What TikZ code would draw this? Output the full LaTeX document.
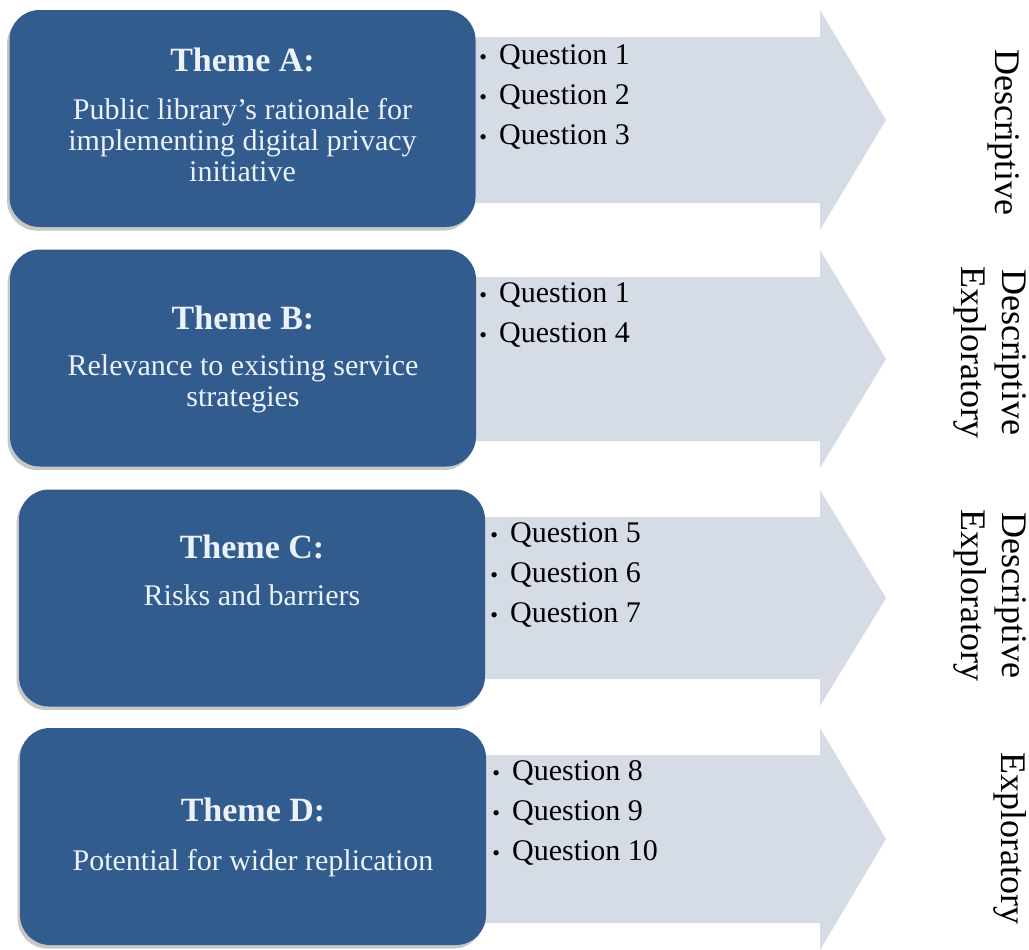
\documentclass[tikz,border=0pt]{standalone}
\usepackage{fontspec}
\setmainfont{Liberation Serif}
\usepackage{tikz}
\usetikzlibrary{
  shadows,               % Soft shadow under the theme boxes
  positioning            % Relative placement
}

\definecolor{themeblue}{RGB}{50,92,142}
\definecolor{themetxt}{RGB}{236,242,250}
\definecolor{arrowgray}{RGB}{213,220,230}

\newcommand{\qitem}[1]{{\fontsize{11}{11}\selectfont\textbullet}\hspace{6pt}Question #1}

\begin{document}
\begin{tikzpicture}[x=0.5pt, y=-0.5pt,
    theme/.style={rounded corners=15pt, fill=themeblue, minimum width=233pt, minimum height=108.5pt,
      drop shadow={shadow xshift=-1.2pt, shadow yshift=-1.8pt, fill=black, opacity=0.22}},
    themetitle/.style={text=themetxt, inner sep=0pt, font=\fontsize{17}{20}\selectfont\bfseries},
    themetext/.style={text=themetxt, inner sep=0pt, align=center, font=\fontsize{15}{15.5}\selectfont},
    question/.style={anchor=west, inner sep=0pt, font=\fontsize{15}{18}\selectfont},
    approach/.style={rotate=-90, inner sep=0pt, align=center, font=\fontsize{18}{20.5}\selectfont}]
            \useasboundingbox (0,0) rectangle (1029,949);
            \foreach \top/\bot in {10/230, 250/468, 490/706, 728/950}
                \fill[arrowgray] (460,\top+27) -- (820,\top+27) -- (820,\top) -- (886,{(\top+\bot)/2})
                    -- (820,\bot) -- (820,\bot-27) -- (460,\bot-27) -- cycle;
            \node[theme] (boxA) at (242.5,118.5) {};
            \node[theme] (boxB) at (243,358) {};
            \node[theme] (boxC) at (252,598) {};
            \node[theme] (boxD) at (253,836.5) {};
            \node[themetitle] (tA) at (242.5,60) {Theme A:};
            \node[themetext] (dA) at (242.5,140) {Public library's rationale for\\implementing digital privacy\\initiative};
            \node[themetitle] (tB) at (243,318) {Theme B:};
            \node[themetext] (dB) at (243,384) {Relevance to existing service\\strategies};
            \node[themetitle] (tC) at (252,547) {Theme C:};
            \node[themetext] (dC) at (252,595) {Risks and barriers};
            \node[themetitle] (tD) at (253,810) {Theme D:};
            \node[themetext] (dD) at (253,863) {Potential for wider replication};
            \foreach \n [count=\i] in {1,2,3}
                \node[question] (qA\i) at (479,{57+40*(\i-1)}) {\qitem{\n}};
            \foreach \n [count=\i] in {1,4}
                \node[question] (qB\i) at (479,{295+40*(\i-1)}) {\qitem{\n}};
            \foreach \n [count=\i] in {5,6,7}
                \node[question] (qC\i) at (490,{535+40*(\i-1)}) {\qitem{\n}};
            \foreach \n [count=\i] in {8,9,10}
                \node[question] (qD\i) at (492,{773+40*(\i-1)}) {\qitem{\n}};
            \node[approach] (aA) at (1004,132) {Descriptive};
            \node[approach] (aB) at (990,352) {Descriptive\\Exploratory};
            \node[approach] (aC) at (990,595) {Descriptive\\Exploratory};
            \node[approach] (aD) at (1010,838) {Exploratory};
        \end{tikzpicture}
\end{document}
